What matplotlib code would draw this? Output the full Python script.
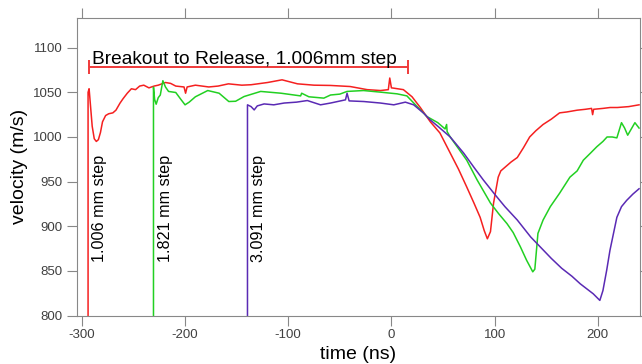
import numpy as np
import matplotlib.pyplot as plt

plt.rcParams['font.family'] = ['Liberation Sans', 'DejaVu Sans']
plt.rcParams['axes.unicode_minus'] = False

# 1.006 mm step (red)
t_rojo = [-294, -294, -293, -292, -290, -288, -286, -284, -282, -280, -277, -274, -270, -267,
          -263, -260, -256, -252, -248, -244, -240, -235, -230, -226, -219, -214, -209, -201,
          -199.5, -198, -190, -177, -168, -158, -145, -136, -120, -106, -91, -75, -59, -40,
          -23.5, -10.6, -3, -1.6, 0, 2, 11.6, 20, 28, 37.7, 47, 57, 65, 73, 80, 86, 90, 93,
          96, 99, 103.5, 106, 110, 116, 122, 128, 134, 140, 147, 155, 163, 170, 180, 188,
          194, 195, 196, 205, 212, 219, 230, 240]
v_rojo = [800, 1050, 1054, 1040, 1012, 998, 995, 997, 1005, 1017, 1024, 1026, 1027, 1030,
          1038, 1043, 1049, 1054, 1053, 1057, 1058, 1055, 1057, 1058, 1061, 1060, 1057, 1056,
          1049, 1056, 1058, 1056, 1057, 1059.5, 1058, 1058.5, 1061, 1064, 1059.5, 1058, 1057.7, 1056.5,
          1053, 1052, 1053, 1066, 1055, 1054.7, 1053, 1045, 1033, 1017, 1004.5, 982, 964, 944,
          926, 910, 895, 886, 894, 926, 955, 962, 966, 972, 977, 988, 1000, 1007, 1014, 1020,
          1027, 1028, 1030, 1031, 1032, 1025, 1031, 1032, 1033, 1033, 1034, 1036]

# 1.821 mm step (verde)
t_verde = [-230.6, -230.6, -229.5, -228, -226, -224, -221.5, -219, -216, -209, -204, -200,
           -196, -190, -178, -167, -157.6, -151, -142.8, -126.7, -107, -88, -87, -80, -65.5,
           -59, -50, -43, -27, -10.6, 5.5, 15, 25, 34.5, 45, 52, 53.5, 54, 57, 65, 73, 83, 90,
           96, 104, 112, 118, 125, 131, 137, 139, 142, 147, 154, 163, 173, 180, 186, 193, 199,
           205, 209, 214, 218.5, 223, 226, 229, 233, 236, 240]
v_verde = [800, 1055.8, 1042, 1036.7, 1044, 1047, 1063, 1056, 1051, 1049.8, 1042, 1036,
           1039, 1045, 1052, 1049, 1039.7, 1040, 1045.3, 1051, 1049, 1046, 1049, 1045, 1043.5,
           1047, 1048, 1051, 1052, 1050.2, 1048.3, 1046, 1034, 1022.8, 1016, 1009, 1014, 1006,
           1000, 987, 974, 952, 938, 926, 914, 903, 893, 877, 862, 849, 852, 892, 907, 922, 937,
           955, 962, 974, 982, 989, 995, 1000, 1000, 999, 1016, 1010, 1002, 1010, 1016, 1010]

# 3.091 mm step (morado)
t_morado = [-139.5, -139.5, -136, -133, -130, -123.4, -114, -104, -92, -81.5, -68.7, -59,
            -44.5, -43, -41, -26.8, -10.6, 2.3, 13.5, 21.6, 31.3, 37.7, 45, 57, 70, 80, 89,
            100, 110, 122, 135, 145, 155, 165, 175, 183, 195.6, 202, 205, 208.6, 211.8, 218.5,
            223, 228, 234, 240]
v_morado = [800, 1036, 1034, 1030.3, 1034.8, 1037, 1036, 1038, 1039, 1040.8, 1036, 1038,
            1041.6, 1049, 1040.4, 1039.7, 1038, 1036, 1039, 1036, 1026.6, 1019, 1012, 1000,
            982, 966, 952, 936, 922, 907, 888, 876, 864, 853, 844, 835.6, 824.4, 817, 828,
            850.5, 873, 910, 922, 929, 936, 942]

etiquetas = ['1.006 mm step', '1.821 mm step', '3.091 mm step']

fig = plt.figure(figsize=(6.42, 3.64), dpi=100)
ax = fig.add_axes([0.1195, 0.133, 0.8775, 0.817])

ax.plot(t_rojo, v_rojo, color='#f52020', lw=1.1)
ax.plot(t_verde, v_verde, color='#22d022', lw=1.1)
ax.plot(t_morado, v_morado, color='#5a2ab4', lw=1.1)

# barra Breakout to Release
ax.errorbar([(-293 + 16.5) / 2], [1078], xerr=[(16.5 + 293) / 2], color='#f03a3a',
            lw=1.4, capsize=5, capthick=1.4)
ax.text(-290, 1082, 'Breakout to Release, 1.006mm step', fontsize=13.8, color='black')

# etiquetas verticales
for x, texto in zip([-283, -218.5, -128.5], etiquetas):
    ax.text(x, 920, texto, rotation=90, fontsize=11.6, ha='center', va='center')

ax.set_xlim(-305, 241)
ax.set_ylim(800, 1133)
ax.set_xticks([-300, -200, -100, 0, 100, 200])
ax.set_yticks([800, 850, 900, 950, 1000, 1050, 1100])
ax.set_xlabel('time (ns)', fontsize=14, labelpad=3)
ax.set_ylabel('velocity (m/s)', fontsize=14, labelpad=4)

for s in ax.spines.values():
    s.set_color('#888888')
ax.tick_params(direction='out', length=7, color='#888888', labelsize=9.5,
               labelcolor='#404040', top=True, right=True, pad=3)

plt.savefig('out.png', dpi=100)
